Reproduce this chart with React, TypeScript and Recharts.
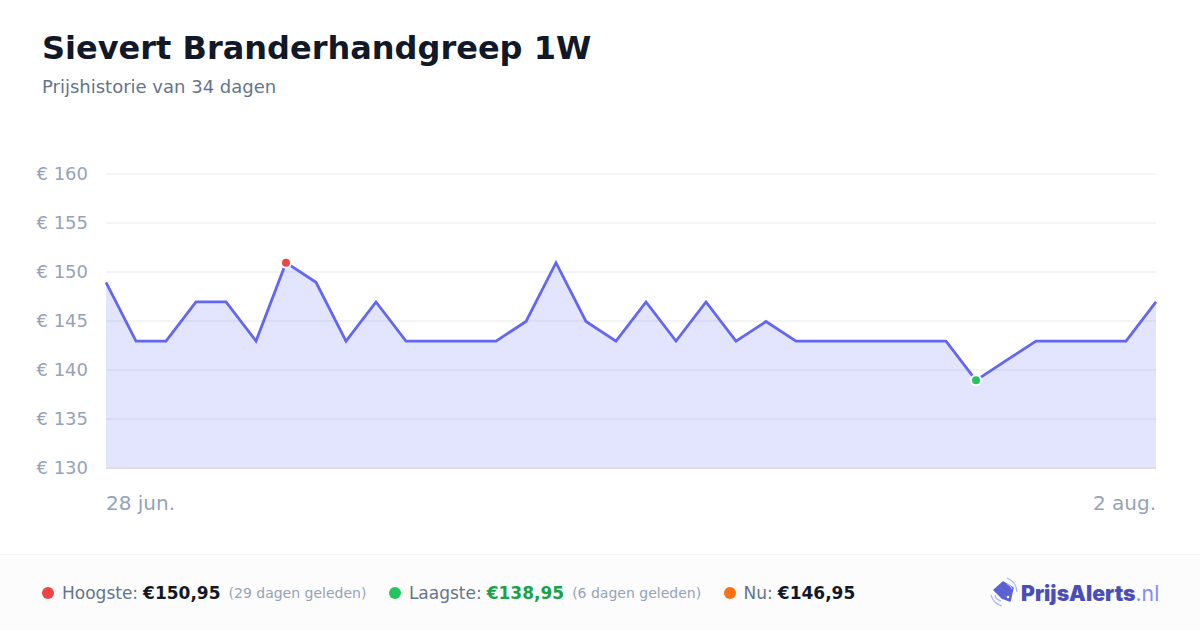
import { AreaChart, Area, XAxis, YAxis, CartesianGrid, ReferenceDot, ReferenceLine } from 'recharts';

const dagen = [
  '28 jun.', '29 jun.', '30 jun.', '1 jul.', '2 jul.', '3 jul.', '4 jul.', '5 jul.', '6 jul.',
  '7 jul.', '8 jul.', '9 jul.', '10 jul.', '11 jul.', '12 jul.', '13 jul.', '14 jul.', '15 jul.',
  '16 jul.', '17 jul.', '18 jul.', '19 jul.', '20 jul.', '21 jul.', '22 jul.', '23 jul.', '24 jul.',
  '25 jul.', '26 jul.', '27 jul.', '28 jul.', '29 jul.', '30 jul.', '31 jul.', '1 aug.', '2 aug.',
];
const prijzen = [
  148.95, 142.95, 142.95, 146.95, 146.95, 142.95, 150.95, 148.95, 142.95,
  146.95, 142.95, 142.95, 142.95, 142.95, 144.95, 150.95, 144.95, 142.95,
  146.95, 142.95, 146.95, 142.95, 144.95, 142.95, 142.95, 142.95, 142.95,
  142.95, 142.95, 138.95, 140.95, 142.95, 142.95, 142.95, 142.95, 146.95,
];
const yTicks = [130, 135, 140, 145, 150, 155, 160];
const xTicks = ['28 jun.', '2 aug.'];

const data = dagen.map((dag, i) => ({ dag, prijs: prijzen[i] }));

const font = '"DejaVu Sans", sans-serif';

const XTick = ({ x, y, payload }: any) => (
  <text
    x={x}
    y={y + 6}
    fontFamily={font}
    fontSize={20}
    fill="#94a3b8"
    textAnchor={payload.value === xTicks[0] ? 'start' : 'end'}
  >
    {payload.value}
  </text>
);

const Stat = ({ color, label, value, valueColor, note }: any) => (
  <div style={{ display: 'flex', alignItems: 'center' }}>
    <span style={{ width: 12, height: 12, borderRadius: 6, background: color, marginRight: 8 }} />
    <span style={{ fontSize: 17, color: '#64748b', marginRight: 5 }}>{label}</span>
    <span style={{ fontSize: 17, fontWeight: 700, color: valueColor }}>{value}</span>
    {note && <span style={{ fontSize: 14, color: '#94a3b8', marginLeft: 8 }}>{note}</span>}
  </div>
);

export default function App() {
  return (
    <div style={{ position: 'absolute', left: 0, top: 0, width: 1200, height: 630, background: '#fff', fontFamily: font, overflow: 'hidden' }}>
      <div style={{ position: 'absolute', left: 42, top: 28, fontSize: 32, fontWeight: 700, color: '#111827', lineHeight: '40px', whiteSpace: 'nowrap' }}>
        Sievert Branderhandgreep 1W
      </div>
      <div style={{ position: 'absolute', left: 42, top: 76, fontSize: 18, color: '#64748b', lineHeight: '22px' }}>
        Prijshistorie van 34 dagen
      </div>

      <div style={{ position: 'absolute', left: 0, top: 0 }}>
        <AreaChart width={1200} height={630} data={data} margin={{ top: 174, right: 44, bottom: 110, left: 36 }}>
          <CartesianGrid vertical={false} stroke="#f3f4f6" strokeWidth={2} />
          <XAxis
            dataKey="dag"
            ticks={xTicks}
            interval={0}
            scale="point"
            height={52}
            axisLine={false}
            tickLine={false}
            tick={<XTick />}
            tickMargin={30}
          />
          <YAxis
            width={70}
            domain={[130, 160]}
            ticks={yTicks}
            interval={0}
            axisLine={false}
            tickLine={false}
            tickMargin={12}
            tickFormatter={(v: number) => `€ ${v}`}
            tick={{ fontFamily: font, fontSize: 18, fill: '#94a3b8' }}
          />
          <Area
            type="linear"
            dataKey="prijs"
            stroke="#6366f1"
            strokeWidth={2.75}
            fill="#6373f5"
            fillOpacity={0.19}
            dot={false}
            activeDot={false}
            isAnimationActive={false}
          />
          <ReferenceLine y={130} stroke="#dddde4" strokeWidth={2} />
          <ReferenceDot x="4 jul." y={150.95} r={5} fill="#ef4444" stroke="#ffffff" strokeWidth={2} />
          <ReferenceDot x="27 jul." y={138.95} r={5} fill="#22c55e" stroke="#ffffff" strokeWidth={2} />
        </AreaChart>
      </div>

      <div style={{ position: 'absolute', left: 0, top: 554, width: 1200, height: 76, boxSizing: 'border-box', background: '#fcfcfc', borderTop: '1px solid #f3f4f6' }}>
        <div style={{ position: 'absolute', left: 42, top: 26, height: 24, display: 'flex', gap: 22.5, whiteSpace: 'nowrap' }}>
          <Stat color="#ef4444" label="Hoogste:" value="€150,95" valueColor="#111827" note="(29 dagen geleden)" />
          <Stat color="#22c55e" label="Laagste:" value="€138,95" valueColor="#16a34a" note="(6 dagen geleden)" />
          <Stat color="#f97316" label="Nu:" value="€146,95" valueColor="#111827" />
        </div>
        <svg width={32} height={32} viewBox="0 0 32 32" style={{ position: 'absolute', left: 989, top: 22 }}>
          <path d="M5 13 L14 5 L24 11 L21 24 L13 21 Z" fill="#5b63d3" strokeLinejoin="round" stroke="#5b63d3" strokeWidth={1.5} />
          <circle cx={19} cy={20} r={1.3} fill="#fff" />
          <path d="M18 1 A16 16 0 0 1 28 15 M18 7 A8 8 0 0 1 23 12" stroke="#a5b4fc" strokeWidth={1.2} fill="none" />
          <path d="M2 18 A16 16 0 0 0 13 29 M6 18 A8 8 0 0 0 12 24" stroke="#a5b4fc" strokeWidth={1.2} fill="none" />
        </svg>
        <div style={{ position: 'absolute', left: 1021, top: 25, lineHeight: '26px', fontSize: 21.2, fontFamily: 'Inter, sans-serif', whiteSpace: 'nowrap' }}>
          <span style={{ fontWeight: 900, color: '#4b4fb5' }}>PrijsAlerts</span>
          <span style={{ fontWeight: 400, color: '#818cf8' }}>.nl</span>
        </div>
      </div>
    </div>
  );
}
